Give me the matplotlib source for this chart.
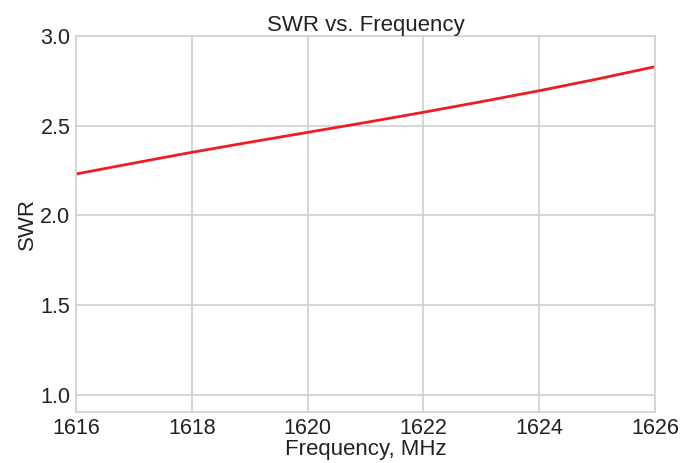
import matplotlib
matplotlib.use("Agg")
import matplotlib.pyplot as plt

plt.rcParams['font.family'] = ['Liberation Sans', 'DejaVu Sans']

# SWR readings per MHz
freq = [1616, 1617, 1618, 1619, 1620, 1621, 1622, 1623, 1624, 1625, 1626]
swr = [2.231, 2.292, 2.352, 2.408, 2.463, 2.518, 2.575, 2.634, 2.695, 2.760, 2.829]
xticks = [1616, 1618, 1620, 1622, 1624, 1626]
yticks = [1.0, 1.5, 2.0, 2.5, 3.0]

fig = plt.figure(figsize=(6.97, 4.63), dpi=100)
ax = fig.add_axes([76 / 697, 1 - 412 / 463, 579 / 697, 376 / 463])
ax.plot(freq, swr, color='#ee1c24', linewidth=2)
ax.set_xlim(1616, 1626)
ax.set_ylim(0.905, 3.0)
ax.set_xticks(xticks)
ax.set_yticks(yticks)
ax.set_yticklabels(["%.1f" % y for y in yticks])
ax.grid(True, color='#d0d0d0', linewidth=1.2)
ax.set_axisbelow(True)
for s in ax.spines.values():
    s.set_color('#d0d0d0')
    s.set_linewidth(1.2)
ax.tick_params(length=0, labelsize=15.5, colors='#222222', pad=4)
ax.set_xlabel("Frequency, MHz", fontsize=16, color='#222222', labelpad=0)
ax.set_ylabel("SWR", fontsize=16, color='#222222', labelpad=2)
ax.set_title("SWR vs. Frequency", fontsize=16, color='#222222', pad=3)

fig.savefig("out.png", dpi=100)
